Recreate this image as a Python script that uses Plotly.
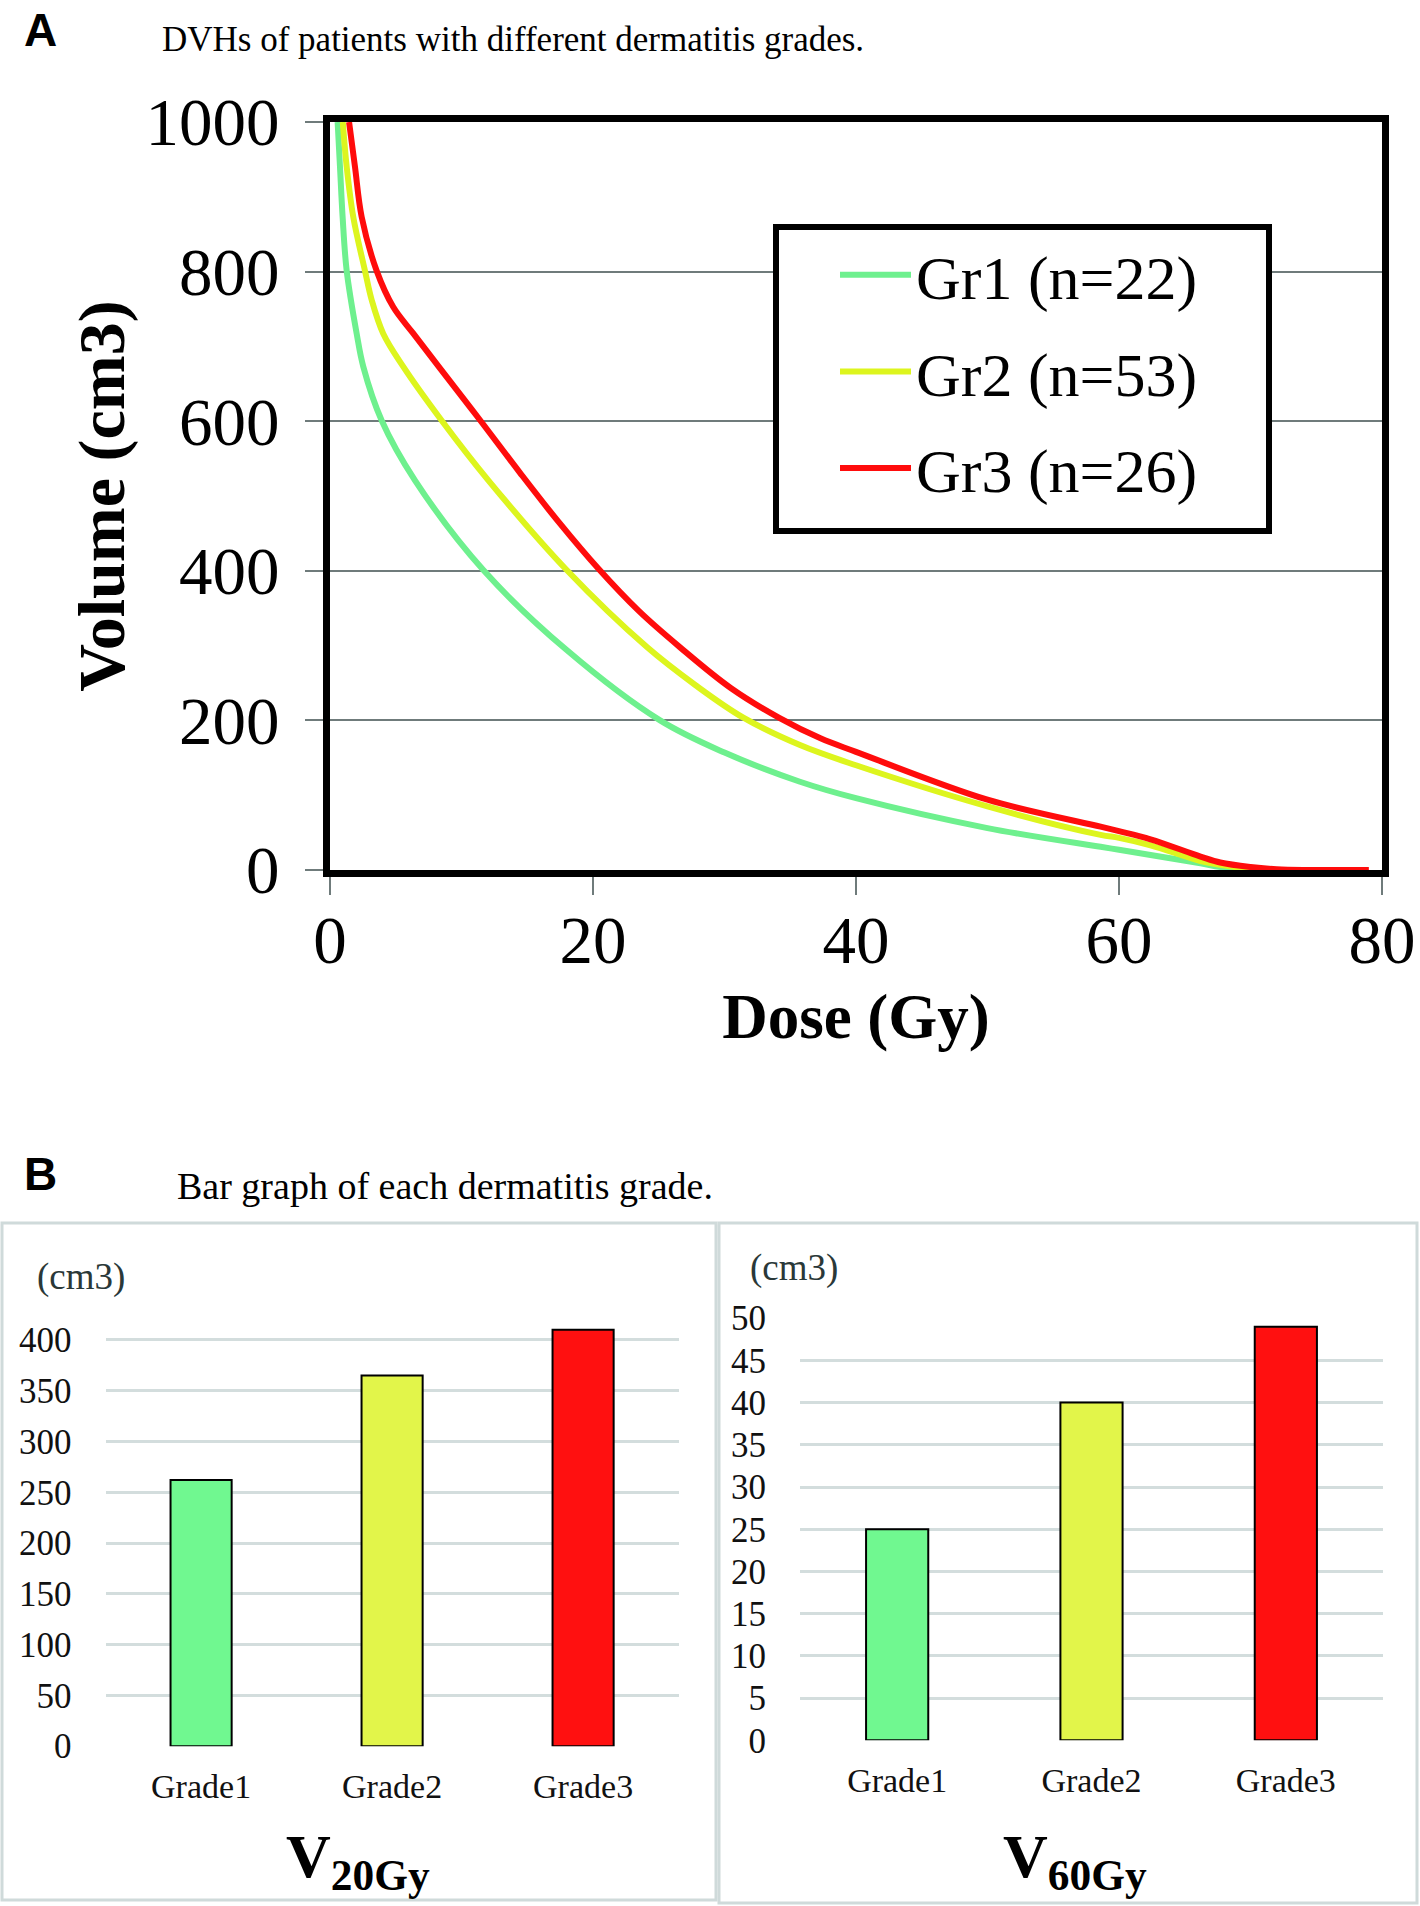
import plotly.graph_objects as go

W, H = 1420, 1906

# ---------------- data ----------------
dose_gr1 = [0.58, 0.76, 0.96, 1.27, 2.03, 2.53, 3.93, 6.46, 11.66, 18.0, 25.1, 30.0, 35.74, 40.0, 50.0, 58.6, 60.0, 62.4, 66.2, 67.7, 70.0]
vol_gr1 = [1000, 940, 873, 801, 717, 673, 601, 521, 401, 294, 200, 157, 118, 96, 56, 31, 27, 20, 9, 4, 0]

dose_gr2 = [0.97, 1.27, 1.77, 2.66, 3.17, 4.05, 5.57, 8.49, 12.04, 18.0, 24.1, 27.8, 31.4, 35.74, 40.0, 50.0, 58.6, 60.0, 62.4, 66.2, 67.7, 70.0]
vol_gr2 = [1000, 940, 873, 801, 762, 717, 673, 601, 521, 401, 298, 247, 204, 167, 140, 85, 47, 43, 33, 12, 7, 1]

dose_gr3 = [1.45, 1.9, 2.41, 3.55, 4.8, 6.3, 8.4, 11.3, 14.45, 17.4, 20.4, 23.5, 26.6, 30.5, 34.2, 37.3, 40.0, 50.0, 58.6, 60.0, 62.4, 66.2, 67.7, 70.0, 72.0, 74.0, 79.0]
vol_gr3 = [1000, 940, 873, 801, 753, 718, 670, 604, 531, 465, 403, 346, 298, 243, 203, 176, 158, 94, 58, 52, 41, 18, 10, 4, 1, 0, 0]

series_names = ["Gr1 (n=22)", "Gr2 (n=53)", "Gr3 (n=26)"]
line_colors = ["#6EF08E", "#DDF51E", "#FF0C0C"]

grades = ["Grade1", "Grade2", "Grade3"]
v20gy = [262, 365, 410]
v60gy = [25, 40, 49]
bar_colors = ["#70F890", "#E2F54A", "#FF1010"]

dose_ticks = [0, 20, 40, 60, 80]
vol_ticks = [0, 200, 400, 600, 800, 1000]
v20_ticks = [0, 50, 100, 150, 200, 250, 300, 350, 400, 450]
v20_ticktext = ["0", "50", "100", "150", "200", "250", "300", "350", "400", " "]
v60_ticks = [0, 5, 10, 15, 20, 25, 30, 35, 40, 45, 50]


def fx(x):
    return x / W


def fy(y):
    return 1 - y / H


SERIF = "Liberation Serif, Times New Roman, serif"
SANS = "Liberation Sans, Arial, sans-serif"

fig = go.Figure()

for d, v, n, c in zip([dose_gr1, dose_gr2, dose_gr3], [vol_gr1, vol_gr2, vol_gr3], series_names, line_colors):
    fig.add_trace(go.Scatter(x=d, y=v, name=n, mode="lines",
                             line=dict(color=c, width=6, shape="spline", smoothing=1.0),
                             legendgroup=n, xaxis="x", yaxis="y"))

fig.add_trace(go.Bar(x=grades, y=v20gy, width=0.32, showlegend=False,
                     marker=dict(color=bar_colors, line=dict(color="black", width=2)),
                     xaxis="x2", yaxis="y2"))
fig.add_trace(go.Bar(x=grades, y=v60gy, width=0.32, showlegend=False,
                     marker=dict(color=bar_colors, line=dict(color="black", width=2)),
                     xaxis="x3", yaxis="y3"))

grid_a = "#6F7B7B"
grid_b = "#D3DDDD"

fig.update_layout(
    width=W, height=H, template="none",
    margin=dict(l=0, r=0, t=0, b=0),
    paper_bgcolor="white", plot_bgcolor="white",
    showlegend=True,
    legend=dict(x=fx(835), y=fy(228), xanchor="left", yanchor="top",
                bgcolor="rgba(0,0,0,0)", borderwidth=0,
                font=dict(family=SERIF, size=62, color="black"),
                tracegroupgap=13, itemwidth=71),
    xaxis=dict(domain=[fx(330), fx(1382)], range=[0, 80], tickvals=dose_ticks,
               ticks="outside", ticklen=18, tickwidth=2, tickcolor=grid_a,
               showline=True, linecolor="black", linewidth=7, mirror=True,
               showgrid=False, zeroline=False, anchor="y",
               tickfont=dict(family=SERIF, size=67, color="black"), ticklabelstandoff=-12,
               title=dict(text="Dose (Gy)", font=dict(family=SERIF, size=63, color="black", weight="bold"),
                          standoff=20)),
    yaxis=dict(domain=[fy(870), fy(122)], range=[0, 1000], tickvals=vol_ticks,
               ticks="outside", ticklen=18, tickwidth=2, tickcolor=grid_a,
               showline=True, linecolor="black", linewidth=7, mirror=True,
               showgrid=True, gridcolor=grid_a, gridwidth=2, zeroline=False, anchor="x",
               tickfont=dict(family=SERIF, size=67, color="black"), ticklabelstandoff=12,
               title=dict(text="Volume (cm3)", font=dict(family=SERIF, size=66, color="black", weight="bold"),
                          standoff=2)),
    xaxis2=dict(domain=[fx(105.6), fx(678.6)], anchor="y2", showline=False, showgrid=False,
                zeroline=False, ticks="outside", ticklen=10, tickcolor="rgba(0,0,0,0)",
                tickfont=dict(family=SERIF, size=34, color="#111111")),
    yaxis2=dict(domain=[fy(1746.2), fy(1289.2)], anchor="x2", range=[0, 450],
                tickvals=v20_ticks, ticktext=v20_ticktext, showline=False,
                showgrid=True, gridcolor=grid_b, gridwidth=3, zeroline=False,
                ticks="outside", ticklen=26, tickcolor="rgba(0,0,0,0)",
                tickfont=dict(family=SERIF, size=35, color="#111111")),
    xaxis3=dict(domain=[fx(800), fx(1383)], anchor="y3", showline=False, showgrid=False,
                zeroline=False, ticks="outside", ticklen=10, tickcolor="rgba(0,0,0,0)",
                tickfont=dict(family=SERIF, size=34, color="#111111")),
    yaxis3=dict(domain=[fy(1740.3), fy(1318.2)], anchor="x3", range=[0, 50],
                tickvals=v60_ticks, showline=False,
                showgrid=True, gridcolor=grid_b, gridwidth=3, zeroline=False,
                ticks="outside", ticklen=26, tickcolor="rgba(0,0,0,0)",
                tickfont=dict(family=SERIF, size=35, color="#111111")),
)

# legend frame (white box with thick black border)
fig.add_shape(type="rect", xref="paper", yref="paper", x0=fx(776), x1=fx(1269), y0=fy(531), y1=fy(227),
              line=dict(color="black", width=6), fillcolor="white", layer="above")

# panel boxes
fig.add_shape(type="rect", xref="paper", yref="paper", x0=fx(2), x1=fx(716), y0=fy(1900), y1=fy(1223),
              line=dict(color="#CFDADA", width=3), layer="below")
fig.add_shape(type="rect", xref="paper", yref="paper", x0=fx(719), x1=fx(1417), y0=fy(1903), y1=fy(1223),
              line=dict(color="#CFDADA", width=3), layer="below")

ann = [
    dict(text="<b>A</b>", x=fx(22), y=fy(2), xanchor="left", yanchor="top",
         font=dict(family=SANS, size=46, color="black")),
    dict(text="DVHs of patients with different dermatitis grades.", x=fx(160), y=fy(40),
         xanchor="left", yanchor="middle", font=dict(family=SERIF, size=35, color="black")),
    dict(text="<b>B</b>", x=fx(22), y=fy(1146), xanchor="left", yanchor="top",
         font=dict(family=SANS, size=46, color="black")),
    dict(text="Bar graph of each dermatitis grade.", x=fx(175), y=fy(1186),
         xanchor="left", yanchor="middle", font=dict(family=SERIF, size=38, color="black")),
    dict(text="(cm3)", x=fx(81), y=fy(1277), xanchor="center", yanchor="middle",
         font=dict(family=SERIF, size=37, color="#2A3838")),
    dict(text="(cm3)", x=fx(794), y=fy(1268), xanchor="center", yanchor="middle",
         font=dict(family=SERIF, size=37, color="#2A3838")),
    dict(text="<b>V<sub>20Gy</sub></b>", x=fx(358), y=fy(1860), xanchor="center", yanchor="middle",
         font=dict(family=SERIF, size=62, color="black")),
    dict(text="<b>V<sub>60Gy</sub></b>", x=fx(1075), y=fy(1860), xanchor="center", yanchor="middle",
         font=dict(family=SERIF, size=62, color="black")),
]
for a in ann:
    fig.add_annotation(xref="paper", yref="paper", showarrow=False, **a)

fig.write_html("out.html", config={"displayModeBar": False},
               post_script="document.body.style.margin='0px';")
